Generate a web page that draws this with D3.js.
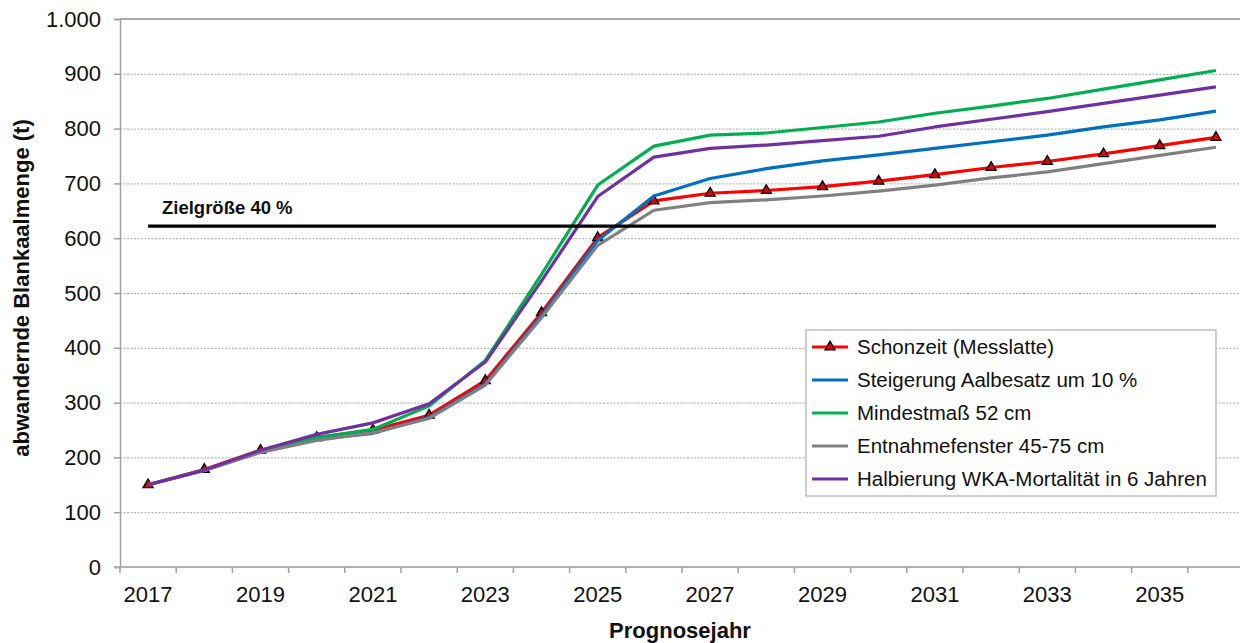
<!DOCTYPE html>
<html lang="de">
<head>
<meta charset="utf-8">
<script src="https://cdn.jsdelivr.net/npm/d3@7"></script>
<style>
  html, body { margin: 0; padding: 0; background: #fff; }
  svg { display: block; font-family: "Liberation Sans", Arial, sans-serif; }
</style>
</head>
<body>
<svg id="chart" width="1240" height="643"></svg>
<script>
// Prognosejahre
const years = [2017, 2018, 2019, 2020, 2021, 2022, 2023, 2024, 2025, 2026,
               2027, 2028, 2029, 2030, 2031, 2032, 2033, 2034, 2035, 2036];

// Abwandernde Blankaalmenge (t) je Szenario
const schonzeit      = [150, 178, 213, 236, 250, 277, 340, 464, 601, 668, 682, 687, 694, 704, 716, 729, 740, 754, 769, 784];
const aalbesatz      = [150, 176, 210, 233, 244, 273, 334, 459, 596, 677, 709, 727, 741, 752, 764, 776, 788, 803, 816, 832];
const mindestmass    = [150, 177, 211, 236, 251, 294, 377, 534, 697, 768, 788, 792, 802, 812, 828, 841, 855, 872, 889, 906];
const entnahmefenster= [150, 176, 209, 231, 245, 271, 332, 455, 587, 651, 665, 670, 677, 686, 697, 710, 721, 736, 751, 766];
const wkaHalbierung  = [150, 177, 213, 242, 263, 298, 374, 522, 676, 748, 764, 770, 778, 786, 803, 817, 831, 846, 861, 876];

const seriesNames = [
  "Schonzeit (Messlatte)",
  "Steigerung Aalbesatz um 10 %",
  "Mindestmaß 52 cm",
  "Entnahmefenster 45-75 cm",
  "Halbierung WKA-Mortalität in 6 Jahren"
];
const seriesValues = [schonzeit, aalbesatz, mindestmass, entnahmefenster, wkaHalbierung];
const seriesColors = ["#ff0000", "#0070c0", "#00b050", "#808080", "#7030a0"];

// Zielgröße 40 %
const zielwert = 622;
const zielLabel = "Zielgröße 40 %";

const yTicks = [0, 100, 200, 300, 400, 500, 600, 700, 800, 900, 1000];
const xLabelYears = [2017, 2019, 2021, 2023, 2025, 2027, 2029, 2031, 2033, 2035];

const svg = d3.select("#chart");
const plotLeft = 120, plotRight = 1244, plotTop = 19, plotBottom = 567;

const x = d3.scaleBand().domain(years).range([plotLeft, plotRight]).padding(0);
const cx = yr => x(yr) + x.bandwidth() / 2;
const y = d3.scaleLinear().domain([0, 1000]).range([plotBottom, plotTop]);
const fmt = v => d3.format(",")(v).replace(/,/g, ".");

// Gitterlinien
svg.append("g")
  .selectAll("line")
  .data(yTicks.filter(t => t > 0 && t < 1000))
  .join("line")
  .attr("x1", plotLeft).attr("x2", 1240)
  .attr("y1", d => y(d) + 0.5).attr("y2", d => y(d) + 0.5)
  .attr("stroke", "#a6a6a6").attr("stroke-width", 1)
  .attr("stroke-dasharray", "2,1.5");

// Rahmen oben
svg.append("line")
  .attr("x1", plotLeft).attr("x2", 1240)
  .attr("y1", y(1000)).attr("y2", y(1000))
  .attr("stroke", "#8c8c8c").attr("stroke-width", 1.5);

// Y-Achse
const yAxis = svg.append("g").attr("transform", `translate(${plotLeft},0)`)
  .call(d3.axisLeft(y).tickValues(yTicks).tickSize(6).tickPadding(13).tickFormat(fmt));
yAxis.select(".domain").attr("stroke", "#a0a0a0").attr("stroke-width", 1.5);
yAxis.selectAll(".tick line").attr("stroke", "#a0a0a0").attr("stroke-width", 1.5);
yAxis.selectAll(".tick text")
  .attr("font-size", 22).attr("fill", "#111")
  .attr("font-family", "Liberation Sans, Arial, sans-serif");

// X-Achse: Teilstriche an Kategoriegrenzen, Beschriftung jedes zweite Jahr
const xg = svg.append("g");
xg.append("line")
  .attr("x1", plotLeft - 6).attr("x2", 1240)
  .attr("y1", plotBottom).attr("y2", plotBottom)
  .attr("stroke", "#b0b0b0").attr("stroke-width", 2);
const boundaries = years.map(yr => x(yr)).concat([plotRight]);
xg.selectAll("line.tick")
  .data(boundaries)
  .join("line")
  .attr("class", "tick")
  .attr("x1", d => d).attr("x2", d => d)
  .attr("y1", plotBottom).attr("y2", plotBottom + 6)
  .attr("stroke", "#a0a0a0").attr("stroke-width", 1.5);
xg.selectAll("text")
  .data(xLabelYears)
  .join("text")
  .attr("x", d => cx(d)).attr("y", 602)
  .attr("text-anchor", "middle")
  .attr("font-size", 22).attr("fill", "#111")
  .text(d => d);

// Achsentitel
svg.append("text")
  .attr("x", 680).attr("y", 638)
  .attr("text-anchor", "middle")
  .attr("font-size", 22).attr("font-weight", "bold").attr("fill", "#111")
  .text("Prognosejahr");
svg.append("text")
  .attr("transform", "translate(29,288) rotate(-90)")
  .attr("text-anchor", "middle")
  .attr("font-size", 22).attr("font-weight", "bold").attr("fill", "#111")
  .text("abwandernde Blankaalmenge (t)");

// Szenario-Linien
const line = d3.line().x((d, i) => cx(years[i])).y(d => y(d));
const tri = d3.symbol().type(d3.symbolTriangle).size(44);
seriesValues.forEach((vals, k) => {
  svg.append("path")
    .datum(vals)
    .attr("d", line)
    .attr("fill", "none")
    .attr("stroke", seriesColors[k])
    .attr("stroke-width", 3.2)
    .attr("stroke-linejoin", "round");
  if (k === 0) {
    svg.append("g").selectAll("path")
      .data(vals)
      .join("path")
      .attr("d", tri)
      .attr("transform", (d, i) => `translate(${cx(years[i])},${y(d)})`)
      .attr("fill", "#e00000").attr("stroke", "#000").attr("stroke-width", 1.3);
  }
});

// Ziellinie
svg.append("line")
  .attr("x1", cx(years[0])).attr("x2", cx(years[years.length - 1]))
  .attr("y1", y(zielwert)).attr("y2", y(zielwert))
  .attr("stroke", "#000").attr("stroke-width", 3.2);
svg.append("text")
  .attr("x", 162).attr("y", 214)
  .attr("font-size", 18.5).attr("font-weight", "bold").attr("fill", "#111")
  .text(zielLabel);

// Legende
const lg = svg.append("g").attr("transform", "translate(806,330)");
lg.append("rect")
  .attr("x", 0).attr("y", 0).attr("width", 410).attr("height", 166)
  .attr("fill", "#fff").attr("stroke", "#bfbfbf").attr("stroke-width", 1.5);
seriesNames.forEach((name, k) => {
  const yy = 17 + k * 33;
  lg.append("line")
    .attr("x1", 6).attr("x2", 42).attr("y1", yy).attr("y2", yy)
    .attr("stroke", seriesColors[k]).attr("stroke-width", 3.2);
  if (k === 0) {
    lg.append("path")
      .attr("d", tri())
      .attr("transform", `translate(24,${yy})`)
      .attr("fill", "#e00000").attr("stroke", "#000").attr("stroke-width", 1.3);
  }
  lg.append("text")
    .attr("x", 51).attr("y", yy + 7)
    .attr("font-size", 20.5).attr("fill", "#111")
    .text(name);
});
</script>
</body>
</html>
